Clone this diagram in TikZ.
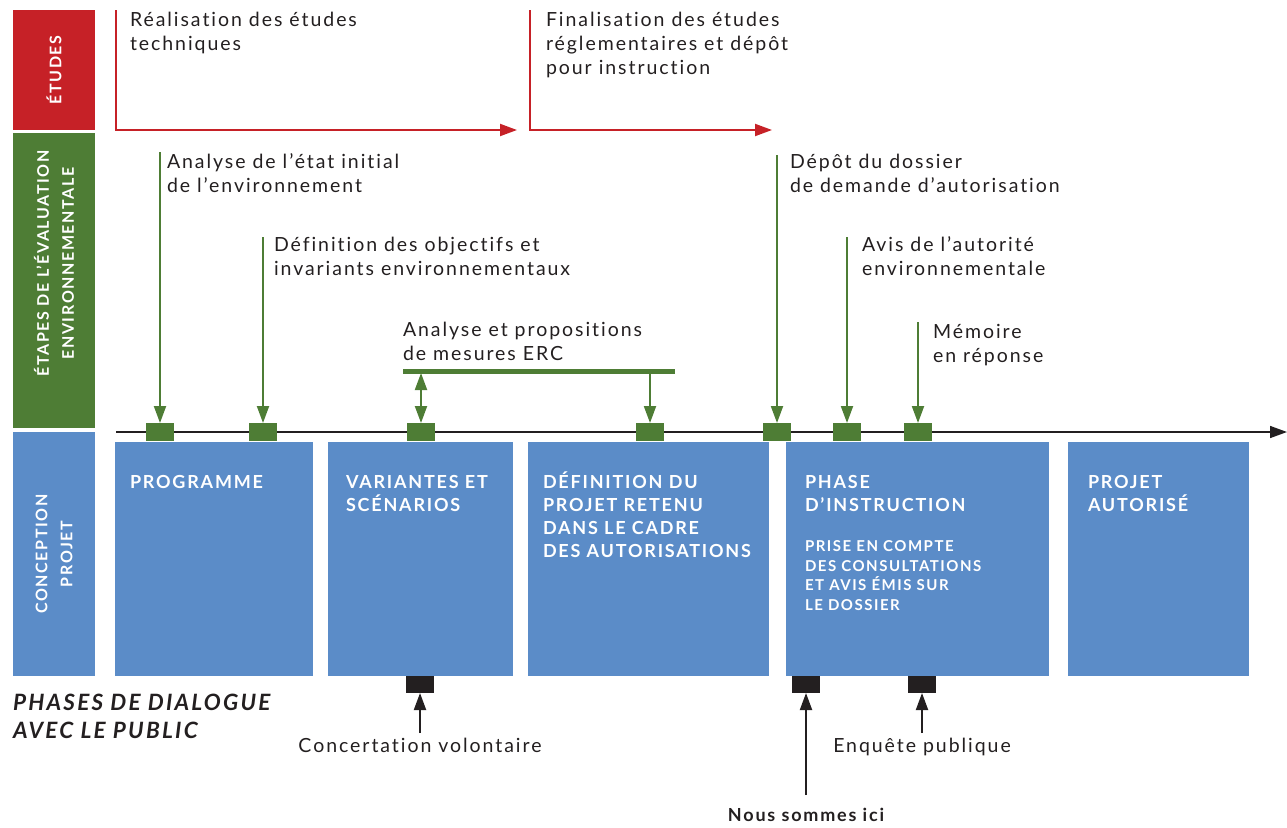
\documentclass[tikz,border=0pt]{standalone}
\usepackage{fontspec}
\setmainfont{Lato}[LetterSpace=10,Ligatures=NoCommon]
\usetikzlibrary{arrows.meta}

\definecolor{etudred}{HTML}{C62127}
\definecolor{evalgreen}{HTML}{4E7D35}
\definecolor{projblue}{HTML}{5B8CC8}
\definecolor{inkgray}{HTML}{231F20}

\begin{document}
\begin{tikzpicture}
  [x=1pt,y=-1pt,
   every node/.style={inner sep=0pt,outer sep=0pt},
   lbl/.style={anchor=north west,align=left,text=inkgray,font=\fontsize{19.5}{24}\selectfont},
   side/.style={rotate=90,minimum height=82pt,align=center,text=white,font=\bfseries\fontsize{16}{25}\selectfont},
   phase/.style={anchor=north west,fill=projblue,minimum height=234pt},
   ptxt/.style={anchor=north west,align=left,text=white,font=\bfseries\fontsize{18}{23}\selectfont},
   gmark/.style={fill=evalgreen,minimum width=28pt,minimum height=18pt},
   kmark/.style={fill=inkgray,minimum width=28pt,minimum height=17pt},
   tip/.style={-{Triangle[width=12pt,length=17pt]}},
   garrow/.style={tip,evalgreen,line width=2pt},
   karrow/.style={tip,inkgray,line width=2pt},
   rarrow/.style={tip,etudred,line width=2pt}]
  \useasboundingbox (0,0) rectangle (1287,827);

  % sidebar
  \node[side,fill=etudred,minimum width=120pt] (s-etudes) at (54,70) {ÉTUDES};
  \node[side,fill=evalgreen,minimum width=295pt] (s-eval) at (54,280.5)
    {\hspace*{34pt}ÉTAPES DE L’ÉVALUATION\\\hspace*{34pt}ENVIRONNEMENTALE};
  \node[side,fill=projblue,minimum width=244pt] (s-proj) at (54,554) {CONCEPTION\\PROJET};

  % etudes
  \coordinate (r1-top) at (116,10);
  \coordinate (r1-end) at (517,130);
  \coordinate (r2-top) at (530,10);
  \coordinate (r2-end) at (772,130);
  \draw[rarrow] (r1-top) |- (r1-end);
  \draw[rarrow] (r2-top) |- (r2-end);
  \node[lbl] (t-real) at (130,12) {Réalisation des études\\techniques};
  \node[lbl] (t-final) at (546,12) {Finalisation des études\\réglementaires et dépôt\\pour instruction};

  % timeline
  \coordinate (tl-start) at (116,432);
  \coordinate (tl-end) at (1287,432);
  \draw[karrow,line width=1.5pt] (tl-start) -- (tl-end);

  % phases du projet
  \node[phase,minimum width=198pt] (prog) at (115,442) {};
  \node[phase,minimum width=185pt] (var) at (328,442) {};
  \node[phase,minimum width=241pt] (def) at (528,442) {};
  \node[phase,minimum width=263pt] (instr) at (786,442) {};
  \node[phase,minimum width=181pt] (auto) at (1068,442) {};
  \node[ptxt] (prog-t) at ([shift={(15,33)}]prog.north west) {PROGRAMME};
  \node[ptxt] (var-t) at ([shift={(18,33)}]var.north west) {VARIANTES ET\\SCÉNARIOS};
  \node[ptxt] (def-t) at ([shift={(15,30)}]def.north west) {DÉFINITION DU\\PROJET RETENU\\DANS LE CADRE\\DES AUTORISATIONS};
  \node[ptxt] (instr-t) at ([shift={(19,33)}]instr.north west) {PHASE\\D’INSTRUCTION};
  \node[ptxt,font=\bfseries\fontsize{15}{19.5}\selectfont] (instr-s) at ([shift={(19,99)}]instr.north west)
    {PRISE EN COMPTE\\DES CONSULTATIONS\\ET AVIS ÉMIS SUR\\LE DOSSIER};
  \node[ptxt] (auto-t) at ([shift={(20,33)}]auto.north west) {PROJET\\AUTORISÉ};

  % etapes de l'evaluation environnementale
  \node[gmark] (m-etat) at (160,432) {};
  \node[gmark] (m-obj) at (263,432) {};
  \node[gmark] (m-erc1) at (421,432) {};
  \node[gmark] (m-erc2) at (650,432) {};
  \node[gmark] (m-depot) at (777,432) {};
  \node[gmark] (m-avis) at (847,432) {};
  \node[gmark] (m-mem) at (918,432) {};
  \coordinate (a-etat) at (160,152);
  \coordinate (a-obj) at (263,237);
  \coordinate (a-depot) at (777,155);
  \coordinate (a-avis) at (847,237);
  \coordinate (a-mem) at (918,322);
  \foreach \from/\to in {a-etat/m-etat,a-obj/m-obj,a-depot/m-depot,a-avis/m-avis,a-mem/m-mem}
    \draw[garrow] (\from) -- (\to);
  \node[lbl] (t-etat) at (167,154) {Analyse de l’état initial\\de l’environnement};
  \node[lbl] (t-obj) at (274,237) {Définition des objectifs et\\invariants environnementaux};
  \node[lbl] (t-erc) at (403,322) {Analyse et propositions\\de mesures ERC};
  \node[lbl] (t-depot) at (790,154) {Dépôt du dossier\\de demande d’autorisation};
  \node[lbl] (t-avis) at (862,237) {Avis de l’autorité\\environnementale};
  \node[lbl] (t-mem) at (933,324) {Mémoire\\en réponse};
  \coordinate (erc-l) at (403,371);
  \coordinate (erc-r) at (675,371);
  \coordinate (erc-a) at (421,373);
  \coordinate (erc-b) at (650,373);
  \draw[evalgreen,line width=5pt] (erc-l) -- (erc-r);
  \draw[garrow,{Triangle[width=12pt,length=17pt]}-{Triangle[width=12pt,length=17pt]}] (erc-a) -- (m-erc1);
  \draw[garrow] (erc-b) -- (m-erc2);

  % phases de dialogue
  \node[lbl,font=\bfseries\itshape\fontsize{22.5}{28}\selectfont] (t-dial) at (13,694) {PHASES DE DIALOGUE\\AVEC LE PUBLIC};
  \node[kmark] (k-conc) at (420,684.5) {};
  \node[kmark] (k-ici) at (806,684.5) {};
  \node[kmark] (k-enq) at (922,684.5) {};
  \coordinate (b-conc) at (420,733);
  \coordinate (b-ici) at (806,795);
  \coordinate (b-enq) at (922,733);
  \foreach \from/\to in {b-conc/k-conc,b-ici/k-ici,b-enq/k-enq}
    \draw[karrow] (\from) -- (\to);
  \node[lbl,anchor=north] (t-conc) at (420,738) {Concertation volontaire};
  \node[lbl,anchor=north] (t-enq) at (922,738) {Enquête publique};
  \node[lbl,anchor=north,font=\bfseries\fontsize{18}{24}\selectfont] (t-ici) at (806,808) {Nous sommes ici};
\end{tikzpicture}
\end{document}
